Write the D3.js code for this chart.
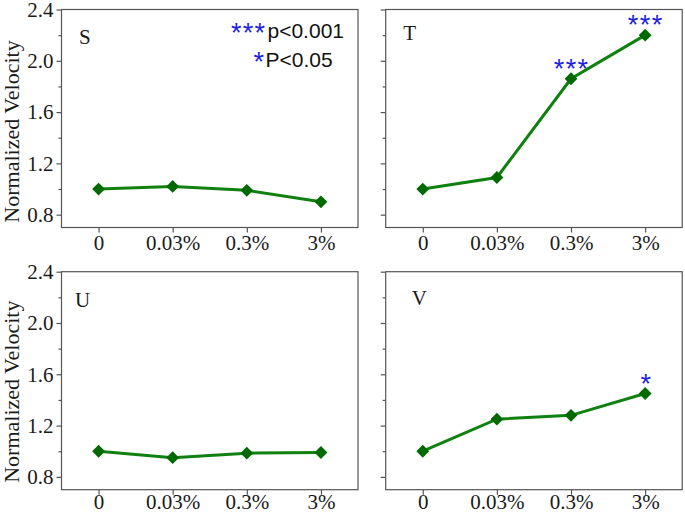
<!DOCTYPE html>
<html>
<head>
<meta charset="utf-8">
<script src="https://cdn.jsdelivr.net/npm/d3@7"></script>
<style>
  html, body { margin: 0; padding: 0; background: #fff; }
  svg { display: block; }
</style>
</head>
<body>
<svg id="chart" width="685" height="516"></svg>
<script>
// ---------------- data ----------------
const categories = ["0", "0.03%", "0.3%", "3%"];
const sValues = [1.00, 1.02, 0.99, 0.90];
const tValues = [1.00, 1.09, 1.86, 2.20];
const uValues = [1.00, 0.95, 0.985, 0.99];
const vValues = [1.00, 1.25, 1.28, 1.45];
const sSig = ["", "", "", ""];
const tSig = ["", "", "***", "***"];
const uSig = ["", "", "", ""];
const vSig = ["", "", "", "*"];
const panelNames = ["S", "T", "U", "V"];
const yMajorTicks = [0.8, 1.2, 1.6, 2.0, 2.4];
const yMinorTicks = [1.0, 1.4, 1.8, 2.2];
const yTitle = "Normalized Velocity";
const legendStars = ["***", "*"];
const legendTexts = ["p<0.001", "P<0.05"];

// ---------------- layout ----------------
const svg = d3.select("#chart");
const serif = "Liberation Serif, Times New Roman, serif";
const sans = "Liberation Sans, Arial, sans-serif";
const frameColor = "#555";
const textColor = "#1a1a1a";
const lineColor = "#108010";
const markerColor = "#006a00";
const starColor = "#1f1fe0";

const colX = [61.5, 385.7];
const rowY = [9.5, 271.7];
const pw = 296.5, ph = 218;
const xLabelPad = [3, -0.5];
const titleMid = [122, 120];

const panels = [
  {name: panelNames[0], values: sValues, sig: sSig, col: 0, row: 0, lab: [17.5, 34]},
  {name: panelNames[1], values: tValues, sig: tSig, col: 1, row: 0, lab: [17.5, 30]},
  {name: panelNames[2], values: uValues, sig: uSig, col: 0, row: 1, lab: [13.5, 35]},
  {name: panelNames[3], values: vValues, sig: vSig, col: 1, row: 1, lab: [26, 33]}
];

panels.forEach(p => {
  const x0 = colX[p.col], y0 = rowY[p.row];
  const g = svg.append("g").attr("transform", `translate(${x0},${y0})`);
  const x = d3.scaleLinear().domain([-0.5, 3.5]).range([0, pw]);
  const y = d3.scaleLinear().domain([0.7, 2.4]).range([ph, 0]);

  // frame
  g.append("rect").attr("x", 0).attr("y", 0).attr("width", pw).attr("height", ph)
    .attr("fill", "none").attr("stroke", frameColor).attr("stroke-width", 1.2);

  // y axis major
  const yAxis = d3.axisLeft(y).tickValues(yMajorTicks).tickSize(5).tickPadding(3)
    .tickFormat(p.col === 0 ? d3.format(".1f") : () => "");
  const ya = g.append("g").call(yAxis);
  ya.select(".domain").remove();
  ya.selectAll("line").attr("stroke", frameColor).attr("stroke-width", 1.2);
  ya.selectAll("text").style("font-family", serif).style("font-size", "21px").attr("fill", textColor);

  // y axis minor
  const ym = g.append("g").call(d3.axisLeft(y).tickValues(yMinorTicks).tickSize(3).tickFormat(() => ""));
  ym.select(".domain").remove();
  ym.selectAll("line").attr("stroke", frameColor).attr("stroke-width", 1.2);

  // x axis
  const xAxis = d3.axisBottom(x).tickValues(d3.range(categories.length)).tickSize(5)
    .tickPadding(xLabelPad[p.row]).tickFormat(i => categories[i]);
  const xa = g.append("g").attr("transform", `translate(0,${ph})`).call(xAxis);
  xa.select(".domain").remove();
  xa.selectAll("line").attr("stroke", frameColor).attr("stroke-width", 1.2);
  xa.selectAll("text").style("font-family", serif).style("font-size", "21px").attr("fill", textColor);

  // line
  const line = d3.line().x((d, i) => x(i)).y(d => y(d));
  g.append("path").datum(p.values).attr("d", line)
    .attr("fill", "none").attr("stroke", lineColor).attr("stroke-width", 3);

  // markers
  const sym = d3.symbol().type(d3.symbolSquare).size(82);
  g.selectAll(".mk").data(p.values).join("path").attr("class", "mk")
    .attr("d", sym())
    .attr("transform", (d, i) => `translate(${x(i)},${y(d)}) rotate(45)`)
    .attr("fill", markerColor);

  // significance stars
  const sigData = p.sig.map((s, i) => ({s, i, v: p.values[i]})).filter(d => d.s !== "");
  g.selectAll(".sig").data(sigData).join("text").attr("class", "sig")
    .attr("x", d => x(d.i) + 0.6)
    .attr("y", d => y(d.v) - 1)
    .attr("text-anchor", "middle")
    .style("font-family", sans).style("font-size", "27px")
    .attr("letter-spacing", d => d.s.length > 1 ? 1.4 : 0)
    .attr("fill", starColor)
    .text(d => d.s);

  // panel label
  g.append("text").attr("x", p.lab[0]).attr("y", p.lab[1])
    .style("font-family", serif).style("font-size", "21px").attr("fill", textColor)
    .text(p.name);

  // y title
  if (p.col === 0) {
    svg.append("text")
      .attr("transform", `translate(18.5,${y0 + titleMid[p.row]}) rotate(-90)`)
      .attr("text-anchor", "middle")
      .style("font-family", serif).style("font-size", "22px").attr("fill", textColor)
      .text(yTitle);
  }
});

// legend (top-left panel)
const legX = [231, 253.5];
const legTextX = [267.5, 265.5];
const legBase = [38, 66.5];
legendTexts.forEach((t, i) => {
  svg.append("text").attr("x", legX[i]).attr("y", legBase[i] + 4)
    .style("font-family", sans).style("font-size", "27px")
    .attr("letter-spacing", legendStars[i].length > 1 ? 1.2 : 0)
    .attr("fill", starColor).text(legendStars[i]);
  svg.append("text").attr("x", legTextX[i]).attr("y", legBase[i])
    .style("font-family", sans).style("font-size", "21px").attr("fill", "#111")
    .text(t);
});
</script>
</body>
</html>
